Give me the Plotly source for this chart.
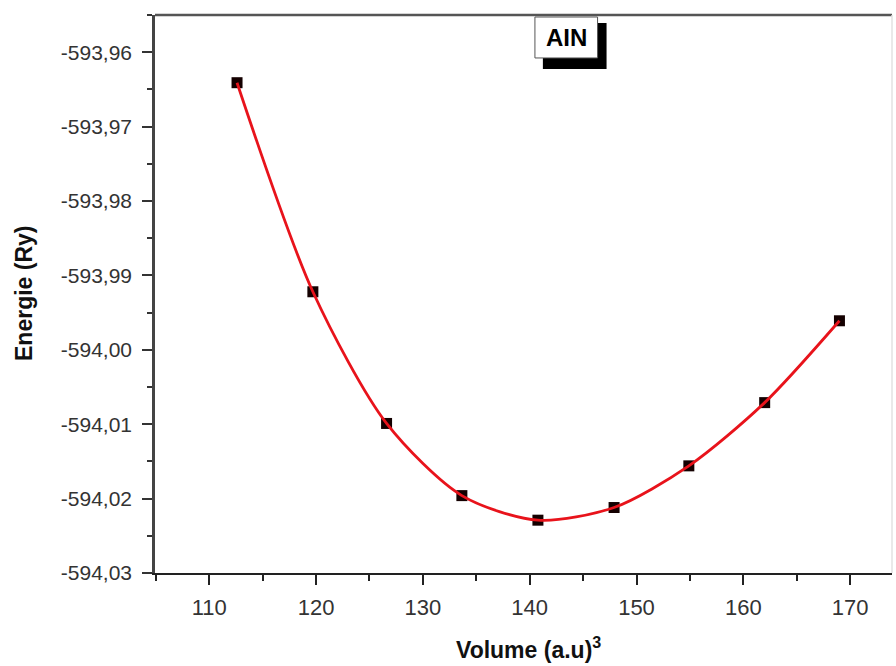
import plotly.graph_objects as go

# Data
volume = [112.6, 119.7, 126.6, 133.65, 140.77, 147.9, 154.9, 162.0, 169.0]
energy = [-593.9641, -593.9922, -594.0099, -594.0196, -594.0229, -594.0212, -594.0156, -594.0071, -593.9961]

x_ticks = [110, 120, 130, 140, 150, 160, 170]
y_ticks = [-593.96, -593.97, -593.98, -593.99, -594.00, -594.01, -594.02, -594.03]
y_tick_labels = ["-593,96", "-593,97", "-593,98", "-593,99", "-594,00", "-594,01", "-594,02", "-594,03"]

fig = go.Figure()
fig.add_trace(go.Scatter(
    x=volume, y=energy, mode="markers",
    marker=dict(symbol="square", size=11, color="#140000", line=dict(width=0)),
    showlegend=False, hoverinfo="skip"))
fig.add_trace(go.Scatter(
    x=volume, y=energy, mode="lines",
    line=dict(color="#e8131b", width=2.8, shape="spline", smoothing=0.8),
    showlegend=False))

xfont = dict(family="Liberation Sans, Arial, sans-serif", size=22, color="#333333")
yfont = dict(family="Liberation Sans, Arial, sans-serif", size=21, color="#333333")

fig.update_xaxes(
    range=[104.92, 173.92], tickvals=x_ticks, ticks="outside", ticklen=10, tickwidth=2,
    tickcolor="#222", showline=True, linecolor="#222", linewidth=2, mirror=False,
    showgrid=False, zeroline=False, tickfont=xfont, ticklabelstandoff=4,
    minor=dict(dtick=5, tick0=105, ticks="outside", ticklen=6, tickwidth=2, tickcolor="#222", showgrid=False))
fig.update_yaxes(
    range=[-594.03, -593.955], tickvals=y_ticks, ticktext=y_tick_labels, ticks="outside",
    ticklen=10, tickwidth=2, tickcolor="#333", showline=True, linecolor="#444", linewidth=2.5,
    showgrid=False, zeroline=False, tickfont=yfont, ticklabelstandoff=6,
    minor=dict(dtick=0.005, tick0=-594.03, ticks="outside", ticklen=5, tickwidth=2, tickcolor="#333", showgrid=False))

shapes = [
    # top frame line
    dict(type="line", xref="paper", yref="paper", x0=0, x1=1, y0=1, y1=1,
         line=dict(color="#555555", width=2.5)),
    # faint right frame line
    dict(type="line", xref="paper", yref="paper", x0=1, x1=1, y0=0, y1=1,
         line=dict(color="#e2e2e2", width=1.5)),
    # label shadow
    dict(type="rect", xref="paper", yref="paper", x0=0.5263, x1=0.6127, y0=0.9032, y1=0.9857,
         fillcolor="black", line=dict(width=0), layer="above"),
    # label box
    dict(type="rect", xref="paper", yref="paper", x0=0.5155, x1=0.6005, y0=0.923, y1=0.9964,
         fillcolor="white", line=dict(color="#555555", width=1), layer="above"),
]

annotations = [
    dict(text="<b>AIN</b>", xref="paper", yref="paper", x=0.558, y=0.9597, showarrow=False,
         font=dict(family="Liberation Sans, Arial, sans-serif", size=24, color="black"),
         xanchor="center", yanchor="middle"),
    dict(text="<b>Volume (a.u)<sup>3</sup></b>", xref="paper", yref="paper", x=0.507, y=0,
         yshift=-75, showarrow=False, xanchor="center", yanchor="middle",
         font=dict(family="Liberation Sans, Arial, sans-serif", size=23, color="#111")),
    dict(text="<b>Energie (Ry)</b>", xref="paper", yref="paper", x=0, y=0.5, xshift=-131,
         showarrow=False, textangle=-90, xanchor="center", yanchor="middle",
         font=dict(family="Liberation Sans, Arial, sans-serif", size=23, color="#111")),
]

fig.update_layout(
    width=896, height=666, margin=dict(l=155, r=4, t=15, b=93),
    paper_bgcolor="white", plot_bgcolor="white",
    shapes=shapes, annotations=annotations, showlegend=False)

fig.write_html("out.html")
